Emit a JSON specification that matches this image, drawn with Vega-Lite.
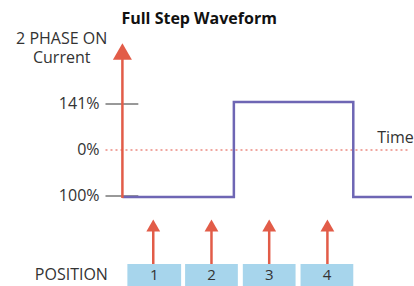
{
  "$schema": "https://vega.github.io/schema/vega-lite/v6.json",
  "width": 414,
  "height": 286,
  "padding": 0,
  "autosize": {"type": "fit", "contains": "padding"},
  "background": "white",
  "config": {"view": {"stroke": null}},
  "layer": [
    {
      "data": {"values": [
        {"x": 106, "x2": 412, "y": 150}
      ]},
      "mark": {"type": "rule", "color": "#ec8a80", "strokeWidth": 1.5, "strokeDash": [2, 3]},
      "encoding": {
        "x": {"field": "x", "type": "quantitative", "scale": {"domain": [0, 414], "nice": false, "zero": false}, "axis": null},
        "x2": {"field": "x2"},
        "y": {"field": "y", "type": "quantitative", "scale": {"domain": [0, 286], "nice": false, "zero": false, "reverse": true}, "axis": null}
      }
    },
    {
      "data": {"values": [
        {"x": 106, "x2": 139, "y": 104},
        {"x": 106, "x2": 139, "y": 196}
      ]},
      "mark": {"type": "rule", "color": "#333333", "strokeWidth": 1},
      "encoding": {
        "x": {"field": "x", "type": "quantitative"},
        "x2": {"field": "x2"},
        "y": {"field": "y", "type": "quantitative"}
      }
    },
    {
      "data": {"values": [
        {"o": 1, "x": 123, "y": 197},
        {"o": 2, "x": 235, "y": 197},
        {"o": 3, "x": 235, "y": 102},
        {"o": 4, "x": 355, "y": 102},
        {"o": 5, "x": 355, "y": 197},
        {"o": 6, "x": 416, "y": 197}
      ]},
      "mark": {"type": "line", "color": "#6e66b4", "strokeWidth": 2.5, "strokeJoin": "miter", "clip": true},
      "encoding": {
        "x": {"field": "x", "type": "quantitative"},
        "y": {"field": "y", "type": "quantitative"},
        "order": {"field": "o"}
      }
    },
    {
      "data": {"values": [
        {"x": 123, "y": 198, "y2": 52},
        {"x": 154, "y": 264, "y2": 226},
        {"x": 212.5, "y": 264, "y2": 226},
        {"x": 270.5, "y": 264, "y2": 226},
        {"x": 329, "y": 264, "y2": 226}
      ]},
      "mark": {"type": "rule", "color": "#e25c48", "strokeWidth": 2.5},
      "encoding": {
        "x": {"field": "x", "type": "quantitative"},
        "y": {"field": "y", "type": "quantitative"},
        "y2": {"field": "y2"}
      }
    },
    {
      "data": {"values": [
        {"x": 123, "y": 51.5, "s": 324},
        {"x": 154, "y": 225.5, "s": 169},
        {"x": 212.5, "y": 225.5, "s": 169},
        {"x": 270.5, "y": 225.5, "s": 169},
        {"x": 329, "y": 225.5, "s": 169}
      ]},
      "mark": {"type": "point", "shape": "triangle-up", "filled": true, "color": "#e25c48", "opacity": 1, "strokeWidth": 0},
      "encoding": {
        "x": {"field": "x", "type": "quantitative"},
        "y": {"field": "y", "type": "quantitative"},
        "size": {"field": "s", "type": "quantitative", "scale": {"type": "identity"}, "legend": null}
      }
    },
    {
      "data": {"values": [
        {"x": 128, "x2": 182, "label": "1"},
        {"x": 186, "x2": 239, "label": "2"},
        {"x": 244, "x2": 297, "label": "3"},
        {"x": 302, "x2": 355, "label": "4"}
      ]},
      "layer": [
        {
          "mark": {"type": "rect", "color": "#a7d5ec"},
          "encoding": {
            "x": {"field": "x", "type": "quantitative"},
            "x2": {"field": "x2"},
            "y": {"datum": 264, "type": "quantitative"},
            "y2": {"datum": 286}
          }
        },
        {
          "transform": [{"calculate": "(datum.x + datum.x2) / 2", "as": "xc"}],
          "mark": {"type": "text", "font": "Open Sans", "fontSize": 15, "color": "#333333", "align": "center", "baseline": "middle"},
          "encoding": {
            "x": {"field": "xc", "type": "quantitative"},
            "y": {"datum": 275, "type": "quantitative"},
            "text": {"field": "label"}
          }
        }
      ]
    },
    {
      "data": {"values": [
        {"x": 100, "y": 104, "t": "141%"},
        {"x": 100, "y": 150, "t": "0%"},
        {"x": 100, "y": 196, "t": "100%"}
      ]},
      "mark": {"type": "text", "font": "Open Sans", "fontSize": 16, "color": "#333333", "align": "right", "baseline": "middle"},
      "encoding": {
        "x": {"field": "x", "type": "quantitative"},
        "y": {"field": "y", "type": "quantitative"},
        "text": {"field": "t"}
      }
    },
    {
      "data": {"values": [
        {"x": 35, "y": 275, "t": "POSITION"},
        {"x": 379, "y": 138, "t": "Time"}
      ]},
      "mark": {"type": "text", "font": "Open Sans", "fontSize": 16, "color": "#333333", "align": "left", "baseline": "middle"},
      "encoding": {
        "x": {"field": "x", "type": "quantitative"},
        "y": {"field": "y", "type": "quantitative"},
        "text": {"field": "t"}
      }
    },
    {
      "data": {"values": [
        {"x": 62, "y": 39, "t": ["2 PHASE ON", "Current"]}
      ]},
      "mark": {"type": "text", "font": "Open Sans", "fontSize": 16, "lineHeight": 18.5, "color": "#333333", "align": "center", "baseline": "middle"},
      "encoding": {
        "x": {"field": "x", "type": "quantitative"},
        "y": {"field": "y", "type": "quantitative"},
        "text": {"field": "t"}
      }
    },
    {
      "data": {"values": [
        {"x": 122, "y": 19, "t": "Full Step Waveform"}
      ]},
      "mark": {"type": "text", "font": "Open Sans", "fontSize": 16, "fontWeight": "bold", "color": "#111111", "align": "left", "baseline": "middle"},
      "encoding": {
        "x": {"field": "x", "type": "quantitative"},
        "y": {"field": "y", "type": "quantitative"},
        "text": {"field": "t"}
      }
    }
  ]
}
